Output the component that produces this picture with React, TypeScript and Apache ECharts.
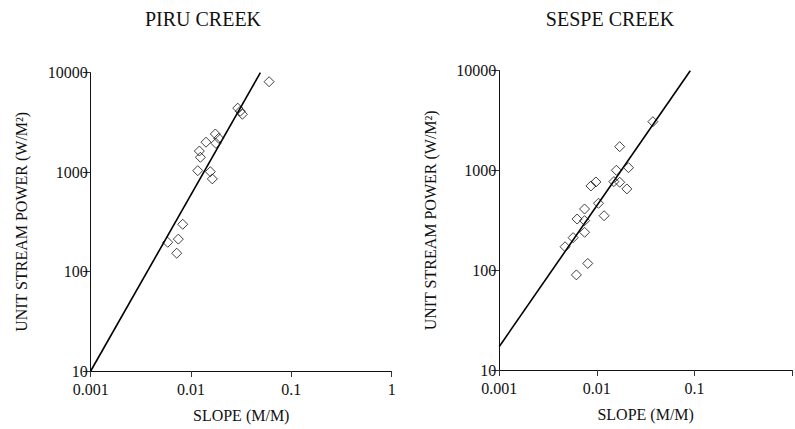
import React, { useEffect, useRef } from "react";
import * as echarts from "echarts";

// Piru Creek: slope (m/m), unit stream power (W/m2)
const piruSlope = [0.060, 0.0292, 0.0310, 0.0325, 0.01746, 0.0189, 0.0177, 0.0141, 0.0121, 0.0124, 0.01167, 0.01557, 0.0163, 0.00826, 0.00586, 0.00747, 0.0072];
const piruPower = [8120, 4400, 4100, 3820, 2420, 2190, 1950, 2000, 1630, 1410, 1035, 1010, 855, 299, 197, 212, 153];
const piruFitSlope = [0.001, 0.0491];
const piruFitPower = [10, 10000];

// Sespe Creek
const sespeSlope = [0.0375, 0.01714, 0.01585, 0.0211, 0.01493, 0.01714, 0.0203, 0.0087, 0.00977, 0.0104, 0.01186, 0.00748, 0.00627, 0.00748, 0.00748, 0.00571, 0.00472, 0.00807, 0.00617];
const sespePower = [3083, 1732, 1005, 1067, 773, 762, 653, 700, 767, 469, 352, 411, 326, 314, 240, 212, 172, 117, 89.8];
const sespeFitSlope = [0.001, 0.0906];
const sespeFitPower = [17.2, 10000];

const xTickLabels = ["0.001", "0.01", "0.1", "1"];
const yTickLabels = ["10", "100", "1000", "10000"];
const titles = ["PIRU CREEK", "SESPE CREEK"];
const xName = "SLOPE (M/M)";
const yName = "UNIT STREAM POWER (W/M²)";

const FONT = "Liberation Serif";

function fmtX(v: number, hideOne: boolean) {
  const e = Math.round(Math.log10(v));
  const s = xTickLabels[e + 3] ?? "";
  if (hideOne && s === "1") return "";
  return s;
}
function fmtY(v: number) {
  const e = Math.round(Math.log10(v));
  return yTickLabels[e - 1] ?? "";
}

export default function App() {
  const ref = useRef<HTMLDivElement>(null);
  useEffect(() => {
    if (!ref.current) return;
    const chart = echarts.init(ref.current, null, { renderer: "svg" });
    const axisLine = { show: true, lineStyle: { color: "#111", width: 1 } };
    const mkX = (idx: number, hideOne: boolean) => ({
      type: "log",
      logBase: 10,
      gridIndex: idx,
      min: 0.001,
      max: 1,
      name: xName,
      nameLocation: "middle",
      nameGap: 36,
      nameTextStyle: { fontFamily: FONT, fontSize: 16, color: "#111" },
      axisLine,
      axisTick: { show: true, length: 6, inside: false, lineStyle: { color: "#333" } },
      minorTick: { show: false },
      splitLine: { show: false },
      axisLabel: {
        fontFamily: FONT,
        fontSize: 16,
        color: "#111",
        margin: 10,
        showMaxLabel: true,
        showMinLabel: true,
        formatter: (v: number) => fmtX(v, hideOne),
      },
    });
    const mkY = (idx: number) => ({
      type: "log",
      logBase: 10,
      gridIndex: idx,
      min: 10,
      max: 10000,
      name: yName,
      nameLocation: "middle",
      nameGap: 61,
      nameTextStyle: { fontFamily: FONT, fontSize: 16, color: "#111" },
      axisLine,
      axisTick: { show: true, length: 8, inside: false, lineStyle: { color: "#333" } },
      splitLine: { show: false },
      axisLabel: {
        fontFamily: FONT,
        fontSize: 16,
        color: "#111",
        margin: 3,
        showMaxLabel: true,
        showMinLabel: true,
        formatter: (v: number) => fmtY(v),
      },
    });
    const scatter = (idx: number, xs: number[], ys: number[]) => ({
      type: "scatter",
      xAxisIndex: idx,
      yAxisIndex: idx,
      symbol: "diamond",
      symbolSize: 10,
      itemStyle: { color: "rgba(255,255,255,0)", borderColor: "#111", borderWidth: 1 },
      data: xs.map((x, i) => [x, ys[i]]),
      z: 3,
    });
    const fit = (idx: number, xs: number[], ys: number[]) => ({
      type: "line",
      xAxisIndex: idx,
      yAxisIndex: idx,
      symbol: "none",
      lineStyle: { color: "#000", width: 1.6 },
      data: xs.map((x, i) => [x, ys[i]]),
      z: 2,
    });
    chart.setOption({
      animation: false,
      backgroundColor: "#fff",
      textStyle: { fontFamily: FONT },
      grid: [
        { left: 90.7, top: 72.7, width: 301, height: 298.3 },
        { left: 499.3, top: 70.7, width: 300, height: 299.3 },
      ],
      graphic: [
        { type: "text", x: 203, y: 19, style: { text: titles[0], fontFamily: FONT, fontSize: 20, fill: "#111", align: "center", verticalAlign: "middle" } },
        { type: "text", x: 610, y: 19, style: { text: titles[1], fontFamily: FONT, fontSize: 20, fill: "#111", align: "center", verticalAlign: "middle" } },
      ],
      xAxis: [mkX(0, false), mkX(1, true)],
      yAxis: [mkY(0), mkY(1)],
      series: [
        fit(0, piruFitSlope, piruFitPower),
        scatter(0, piruSlope, piruPower),
        fit(1, sespeFitSlope, sespeFitPower),
        scatter(1, sespeSlope, sespePower),
      ],
    });
    return () => chart.dispose();
  }, []);
  return <div ref={ref} style={{ position: "fixed", left: 0, top: 0, width: 795, height: 429 }} />;
}
